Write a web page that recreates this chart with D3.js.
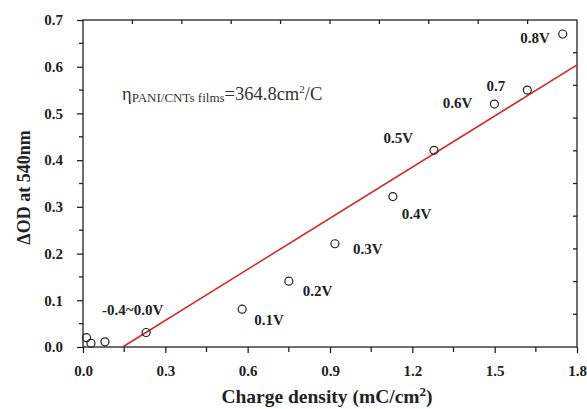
<!DOCTYPE html>
<html>
<head>
<meta charset="utf-8">
<script src="https://cdn.jsdelivr.net/npm/d3@7"></script>
<style>
  html, body { margin: 0; padding: 0; background: #fff; }
  svg text { font-family: "Liberation Serif", "DejaVu Serif", serif; }
</style>
</head>
<body>
<svg id="chart" width="587" height="409"></svg>
<script>
// charge density (mC/cm2) and optical density change at 540 nm
var chargeDensity = [0.013, 0.029, 0.08, 0.23, 0.58, 0.75, 0.918, 1.129, 1.279, 1.499, 1.619, 1.748];
var deltaOD = [0.02, 0.008, 0.011, 0.031, 0.081, 0.141, 0.221, 0.322, 0.421, 0.520, 0.550, 0.670];

// potential labels, by index of the point they belong to
var labelPoint = [3, 4, 5, 6, 7, 8, 9, 10, 11];
var labelText = ['-0.4~0.0V', '0.1V', '0.2V', '0.3V', '0.4V', '0.5V', '0.6V', '0.7', '0.8V'];

// linear fit: slope 364.8 cm2/C = 0.3648 per mC/cm2
var fitSlope = 0.3648;
var fitX0 = 0.1443;
var fitRange = [0.1443, 1.8];

var xTicks = [0, 0.3, 0.6, 0.9, 1.2, 1.5, 1.8];
var yTicks = [0, 0.1, 0.2, 0.3, 0.4, 0.5, 0.6, 0.7];

(function () {

    var svg = d3.select('#chart');
    var left = 83, right = 577, top = 20, bottom = 347;

    var x = d3.scaleLinear().domain([0, 1.8]).range([left, right]);
    var y = d3.scaleLinear().domain([0, 0.7]).range([bottom, top]);

    // label offsets in px from their point
    var labelLayout = [
        {dx: -44, dy: -18, anchor: 'start'},
        {dx: 12, dy: 16, anchor: 'start'},
        {dx: 14, dy: 15, anchor: 'start'},
        {dx: 18, dy: 10, anchor: 'start'},
        {dx: 9, dy: 22, anchor: 'start'},
        {dx: -21, dy: -7, anchor: 'end'},
        {dx: -22, dy: 4, anchor: 'end'},
        {dx: -22, dy: 1, anchor: 'end'},
        {dx: -13, dy: 9, anchor: 'end'}
    ];

    // frame
    svg.append('rect')
        .attr('x', left).attr('y', top)
        .attr('width', right - left).attr('height', bottom - top)
        .attr('fill', 'none').attr('stroke', '#222').attr('stroke-width', 1.3);

    // bottom axis (outward ticks, minor every 0.15)
    var xAxis = d3.axisBottom(x).tickValues(xTicks).tickSize(6).tickPadding(12)
        .tickFormat(d3.format('.1f'));
    var gx = svg.append('g').attr('transform', 'translate(0,' + bottom + ')').call(xAxis);
    gx.select('.domain').remove();
    gx.selectAll('.tick line').attr('stroke', '#222').attr('stroke-width', 1.3);
    gx.selectAll('text').attr('font-size', 15).attr('font-weight', 'bold').attr('fill', '#222');
    gx.selectAll('.minor').data(d3.range(0.15, 1.8, 0.3)).enter()
        .append('line').attr('class', 'minor')
        .attr('x1', function (d) { return x(d); }).attr('x2', function (d) { return x(d); })
        .attr('y1', 0).attr('y2', 5)
        .attr('stroke', '#222').attr('stroke-width', 1.3);

    // left axis (outward ticks, minor every 0.05)
    var yAxis = d3.axisLeft(y).tickValues(yTicks).tickSize(6).tickPadding(14)
        .tickFormat(d3.format('.1f'));
    var gy = svg.append('g').attr('transform', 'translate(' + left + ',0)').call(yAxis);
    gy.select('.domain').remove();
    gy.selectAll('.tick line').attr('stroke', '#222').attr('stroke-width', 1.3);
    gy.selectAll('text').attr('font-size', 15).attr('font-weight', 'bold').attr('fill', '#222');
    gy.selectAll('.minor').data(d3.range(0.05, 0.7, 0.1)).enter()
        .append('line').attr('class', 'minor')
        .attr('y1', function (d) { return y(d); }).attr('y2', function (d) { return y(d); })
        .attr('x1', 0).attr('x2', -4)
        .attr('stroke', '#222').attr('stroke-width', 1.3);

    // top and right: inward ticks, 10 divisions each
    svg.append('g').selectAll('line').data(d3.range(1, 10)).enter()
        .append('line')
        .attr('x1', function (d) { return x(d * 0.18); }).attr('x2', function (d) { return x(d * 0.18); })
        .attr('y1', top).attr('y2', top + 4)
        .attr('stroke', '#222').attr('stroke-width', 1.3);
    svg.append('g').selectAll('line').data(d3.range(1, 10)).enter()
        .append('line')
        .attr('y1', function (d) { return y(d * 0.07); }).attr('y2', function (d) { return y(d * 0.07); })
        .attr('x1', right).attr('x2', right - 4)
        .attr('stroke', '#222').attr('stroke-width', 1.3);

    // fit line
    svg.append('line')
        .attr('x1', x(fitRange[0])).attr('y1', y(fitSlope * (fitRange[0] - fitX0)))
        .attr('x2', x(fitRange[1])).attr('y2', y(fitSlope * (fitRange[1] - fitX0)))
        .attr('stroke', '#d42a2a').attr('stroke-width', 1.6);

    // points
    svg.append('g').selectAll('circle').data(chargeDensity).enter()
        .append('circle')
        .attr('cx', function (d) { return x(d); })
        .attr('cy', function (d, i) { return y(deltaOD[i]); })
        .attr('r', 4)
        .attr('fill', 'none').attr('stroke', '#222').attr('stroke-width', 1.2);

    // point labels
    svg.append('g').selectAll('text').data(labelText).enter()
        .append('text')
        .attr('x', function (d, i) { return x(chargeDensity[labelPoint[i]]) + labelLayout[i].dx; })
        .attr('y', function (d, i) { return y(deltaOD[labelPoint[i]]) + labelLayout[i].dy; })
        .attr('text-anchor', function (d, i) { return labelLayout[i].anchor; })
        .attr('font-size', 15).attr('font-weight', 'bold').attr('fill', '#222')
        .text(function (d) { return d; });

    // efficiency annotation
    var ann = svg.append('text').attr('x', 122).attr('y', 100)
        .attr('font-size', 18.5).attr('fill', '#333');
    ann.append('tspan').text('η');
    ann.append('tspan').attr('font-size', 13).attr('dy', 2).text('PANI/CNTs films');
    ann.append('tspan').attr('dy', -2).text('=364.8cm');
    ann.append('tspan').attr('font-size', 11).attr('dy', -7).text('2');
    ann.append('tspan').attr('dy', 7).text('/C');

    // axis titles
    var xt = svg.append('text').attr('x', 327).attr('y', 403)
        .attr('text-anchor', 'middle').attr('font-size', 19.5).attr('font-weight', 'bold').attr('fill', '#222');
    xt.append('tspan').text('Charge density (mC/cm');
    xt.append('tspan').attr('font-size', 13).attr('dy', -7).text('2');
    xt.append('tspan').attr('dy', 7).text(')');

    svg.append('text')
        .attr('transform', 'translate(30,' + ((top + bottom) / 2 + 4) + ') rotate(-90)')
        .attr('text-anchor', 'middle').attr('font-size', 18).attr('font-weight', 'bold').attr('fill', '#222')
        .text('ΔOD at 540nm');

})();
</script>
</body>
</html>
